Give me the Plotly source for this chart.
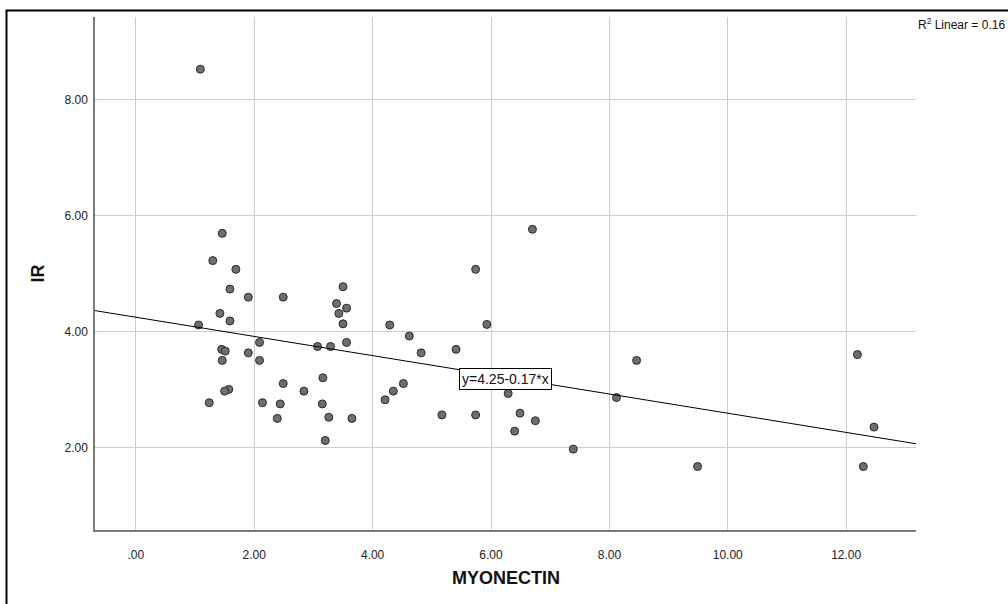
import plotly.graph_objects as go

# Data (MYONECTIN vs IR)
myonectin = [1.09, 1.46, 1.30, 1.69, 1.59, 1.90, 2.49, 1.42, 1.59, 1.06,
             3.50, 3.39, 3.56, 3.43, 3.50, 4.29, 2.09, 3.07, 3.29, 3.56,
             1.45, 1.51, 1.90, 1.46, 2.09, 3.16, 2.49, 2.84, 1.57, 1.50,
             1.24, 2.14, 2.44, 3.15, 4.21, 2.39, 3.26, 3.65, 3.20, 5.74,
             6.70, 5.93, 4.62, 4.82, 5.41, 4.52, 4.35, 5.17, 5.74, 6.29,
             6.49, 6.75, 6.40, 7.39, 8.46, 8.12, 9.49, 12.19, 12.47, 12.29]
ir = [8.53, 5.70, 5.23, 5.08, 4.74, 4.60, 4.60, 4.32, 4.19, 4.12,
      4.78, 4.49, 4.41, 4.32, 4.14, 4.12, 3.82, 3.75, 3.75, 3.82,
      3.70, 3.67, 3.64, 3.51, 3.51, 3.21, 3.11, 2.98, 3.01, 2.98,
      2.78, 2.78, 2.76, 2.76, 2.83, 2.51, 2.53, 2.51, 2.13, 5.08,
      5.77, 4.13, 3.93, 3.64, 3.70, 3.11, 2.98, 2.57, 2.57, 2.94,
      2.60, 2.47, 2.29, 1.98, 3.51, 2.87, 1.68, 3.61, 2.36, 1.68]

x_ticks = [0, 2, 4, 6, 8, 10, 12]
x_ticktext = [".00", "2.00", "4.00", "6.00", "8.00", "10.00", "12.00"]
y_ticks = [2, 4, 6, 8]
y_ticktext = ["2.00", "4.00", "6.00", "8.00"]

fit_intercept = 4.254
fit_slope = -0.1655
fit_label = "y=4.25-0.17*x"
r2_label = "R<sup>2</sup> Linear = 0.16"

x_range = [-0.69, 13.18]
y_range = [0.586, 9.43]

fit_x = x_range
fit_y = [fit_intercept + fit_slope * v for v in fit_x]

FONT = "Arial, 'Liberation Sans', sans-serif"

fig = go.Figure()
fig.add_trace(go.Scatter(
    x=myonectin, y=ir, mode="markers",
    marker=dict(size=8, color="#6e6e6e", line=dict(color="#2a2a2a", width=1)),
    showlegend=False, hoverinfo="x+y"))
fig.add_trace(go.Scatter(
    x=fit_x, y=fit_y, mode="lines",
    line=dict(color="black", width=1), showlegend=False, hoverinfo="skip"))

fig.update_layout(
    width=1008, height=604,
    margin=dict(l=95, r=92, t=17, b=74),
    paper_bgcolor="white", plot_bgcolor="white",
    font=dict(family=FONT, size=12, color="#222"),
    xaxis=dict(range=x_range, tickvals=x_ticks, ticktext=x_ticktext,
               showgrid=True, gridcolor="#cccccc", gridwidth=1,
               zeroline=False, showline=True, linecolor="#7a7a7a", linewidth=1.5,
               ticks="", ticklabelstandoff=13, tickfont=dict(size=12, color="#222")),
    yaxis=dict(range=y_range, tickvals=y_ticks, ticktext=y_ticktext,
               showgrid=True, gridcolor="#cccccc", gridwidth=1,
               zeroline=False, showline=True, linecolor="#7a7a7a", linewidth=1.5,
               ticks="", ticklabelstandoff=3, tickfont=dict(size=12, color="#222")),
    annotations=[
        dict(text="<b>MYONECTIN</b>", xref="paper", yref="paper", x=0.5, y=-0.0936,
             showarrow=False, font=dict(family=FONT, size=18, color="#111"),
             xanchor="center", yanchor="middle"),
        dict(text="<b>IR</b>", xref="paper", yref="paper", x=-0.0706, y=0.5,
             showarrow=False, textangle=-90, font=dict(family=FONT, size=18, color="#111"),
             xanchor="center", yanchor="middle"),
        dict(text=fit_label, x=6.24, y=3.195, xref="x", yref="y",
             showarrow=False, bgcolor="white", bordercolor="black", borderwidth=1,
             borderpad=2, font=dict(family=FONT, size=14, color="#111")),
        dict(text=r2_label, xref="paper", yref="paper", x=1.0, y=(530 - 24) / 513,
             xanchor="left", yanchor="middle", showarrow=False,
             font=dict(family=FONT, size=12, color="#111")),
    ],
    shapes=[
        dict(type="rect", xref="paper", yref="paper",
             x0=(6.5 - 95) / 821, x1=(1030 - 95) / 821,
             y0=(530 - 640) / 513, y1=(530 - 10.5) / 513,
             line=dict(color="black", width=2), fillcolor="rgba(0,0,0,0)", layer="above"),
    ],
)

fig.write_html("out.html", config={"displayModeBar": False},
               post_script="document.body.style.margin='0';")
